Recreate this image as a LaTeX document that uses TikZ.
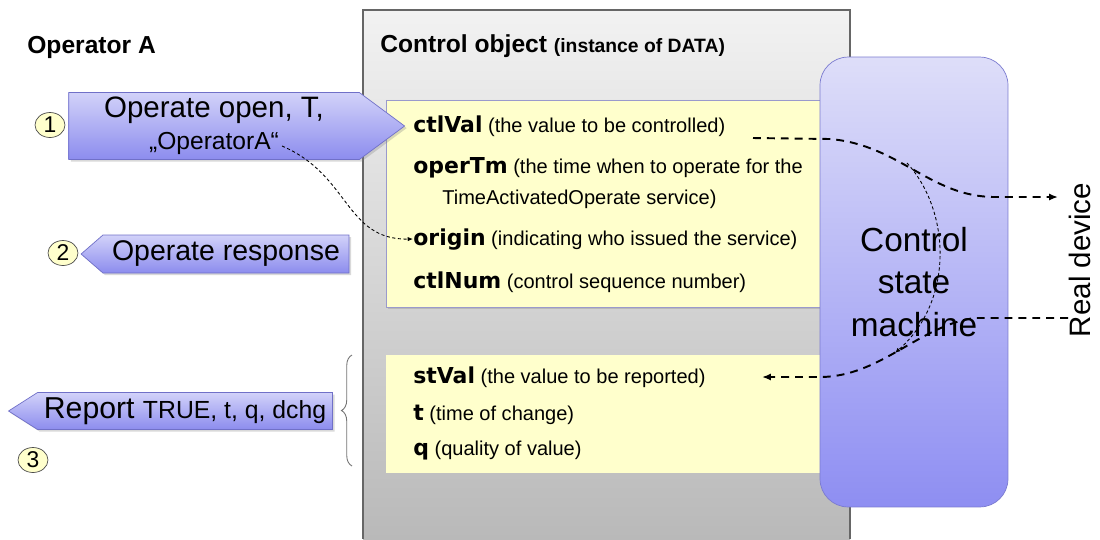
\documentclass[tikz,border=0pt]{standalone}
\usepackage{fontspec}
\setmainfont{Liberation Sans}
\newfontfamily\fieldfont{DejaVu Sans}
\usepackage{tikz}
\usetikzlibrary{shapes.symbols, shapes.geometric, arrows.meta, positioning, decorations.pathreplacing, shadows}
\definecolor{graytop}{HTML}{F2F2F2}
\definecolor{graybot}{HTML}{B9B9B9}
\definecolor{panelfill}{HTML}{FFFFCC}
\definecolor{panelline}{HTML}{9A9ACC}
\definecolor{smtop}{HTML}{DEDEF9}
\definecolor{smbot}{HTML}{8E8EF2}
\definecolor{smline}{HTML}{7B7BD0}
\definecolor{msgtop}{HTML}{D2D2F9}
\definecolor{msgbot}{HTML}{8C8CEE}
\definecolor{msgline}{HTML}{7070C8}

\newcommand{\fld}[1]{{\fieldfont\bfseries\fontsize{12.5}{15}\selectfont #1}}

\begin{document}
\begin{tikzpicture}[x=0.02cm, y=-0.02cm,
  panel/.style={fill=panelfill, inner sep=0pt, minimum width=8.88cm},
  msg/.style={
    signal, draw=msgline, top color=msgtop, bottom color=msgbot,
    inner sep=0pt, align=center,
    drop shadow={shadow xshift=1.2pt, shadow yshift=-1.2pt, opacity=0.3}
  },
  stepnum/.style={ellipse, draw=black!70, fill=panelfill, minimum width=0.6cm,
    minimum height=0.5cm, inner sep=0pt, font=\fontsize{13}{13}\selectfont},
  field/.style={anchor=base west, inner sep=0pt, font=\fontsize{11.4}{13}\selectfont},
  flow/.style={line width=1.1pt, dash pattern=on 4.5pt off 3.4pt,
    -{Latex[length=5pt,width=4pt]}},
  hint/.style={line width=0.5pt, dash pattern=on 1.8pt off 1.4pt,
    -{Latex[length=3pt,width=2.5pt]}}
]
  \useasboundingbox (0,0) rectangle (1100,539);

  % control object
  \fill[top color=graytop, bottom color=graybot] (363,10) rectangle (850,539);
  \draw[black!60, line width=0.6pt] (363,539) -- (363,10) -- (850,10) -- (850,539);
  \node[anchor=base west, inner sep=0pt, font=\bfseries\fontsize{14}{16}\selectfont] (title)
    at (380,52) {Control object {\fontsize{11}{13}\selectfont (instance of DATA)}};
  \node[anchor=base west, inner sep=0pt, font=\bfseries\fontsize{14}{16}\selectfont] (opa)
    at (27,53) {Operator A};

  \node[panel, draw=panelline, minimum height=4.14cm,
        drop shadow={shadow xshift=1.2pt, shadow yshift=-1.2pt, opacity=0.3}] (ctlbox) at (608,203.5) {};
  \node[panel, minimum height=2.36cm] (stbox) at (608,414) {};

  \node[field] (ctlval) at (413,132) {\fld{ctlVal} (the value to be controlled)};
  \node[field] (opertm) at (413,173) {\fld{operTm} (the time when to operate for the};
  \node[field] (tao)    at (442,204) {TimeActivatedOperate service)};
  \node[field] (origin) at (413,245) {\fld{origin} (indicating who issued the service)};
  \node[field] (ctlnum) at (413,288) {\fld{ctlNum} (control sequence number)};

  \node[field] (stval) at (413,383) {\fld{stVal} (the value to be reported)};
  \node[field] (tchg)  at (413,420) {\fld{t} (time of change)};
  \node[field] (qual)  at (413,455) {\fld{q} (quality of value)};

  % state machine
  \node[draw=smline, top color=smtop, bottom color=smbot, rounded corners=16pt,
        minimum width=3.76cm, minimum height=9cm, align=center,
        font=\fontsize{19}{24}\selectfont] (csm) at (914,282) {Control\\state\\machine};
  \node[rotate=90, inner sep=0pt, font=\fontsize{16.8}{18}\selectfont] (device) at (1080,260) {Real device};

  % services
  \node[msg, signal to=east, signal pointer angle=73, minimum width=6.72cm, minimum height=1.34cm,
        font=\fontsize{16.8}{17}\selectfont] (operate) at (214,126)
        {Operate open, T,\\[1pt]{\fontsize{14}{15}\selectfont „OperatorA“}};
  \node[msg, signal to=west, signal pointer angle=82, minimum width=5.36cm, minimum height=0.76cm,
        font=\fontsize{16.2}{17}\selectfont] (resp) at (226,254) {Operate response};
  \node[msg, signal to=west, signal pointer angle=65, minimum width=6.48cm, minimum height=0.74cm,
        font=\fontsize{17.2}{18}\selectfont] (report) at (185,411)
        {Report {\fontsize{14.1}{15}\selectfont TRUE, t, q, dchg}};

  \node[stepnum] (s1) at (50,125) {1};
  \node[stepnum] (s2) at (63,253) {2};
  \node[stepnum] (s3) at (33,460) {3};

  \draw[black!55, line width=0.5pt, decorate, decoration={brace, amplitude=6pt}]
    (352,466) -- (352,355);

  % flows
  \coordinate (opaout) at (282,146);
  \coordinate (ctlout) at (753,138);
  \coordinate (devin)  at (1058,197);
  \coordinate (devout) at (1068,318);
  \coordinate (stin)   at (762,377);
  \coordinate (turn)   at (907,163);
  \coordinate (turnend) at (895,353);

  \draw[hint] (opaout) .. controls (350,175) and (345,240) .. (origin.west);
  \draw[flow] (ctlout) -- (830,139) .. controls (900,145) and (930,197) .. (995,197) -- (devin);
  \draw[flow] (devout) -- (975,318) .. controls (920,325) and (880,377) .. (820,377) -- (stin);
  \draw[hint] (turn) .. controls (950,210) and (955,300) .. (turnend);
\end{tikzpicture}
\end{document}
